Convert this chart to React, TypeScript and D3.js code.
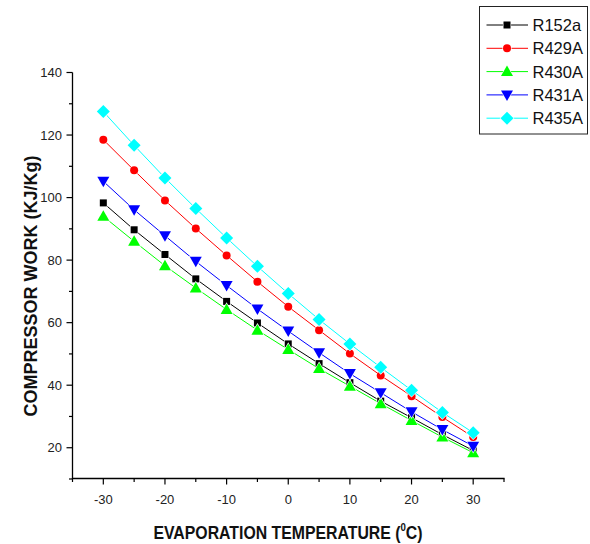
import React from "react";
import * as d3 from "d3";

const temps = [-30, -25, -20, -15, -10, -5, 0, 5, 10, 15, 20, 25, 30];
const r152a = [98.3, 89.7, 81.8, 74.0, 66.8, 59.9, 53.2, 46.9, 40.8, 34.9, 29.6, 24.2, 19.1];
const r429a = [118.5, 108.7, 99.1, 90.1, 81.5, 73.1, 65.1, 57.6, 50.1, 43.1, 36.5, 29.8, 23.4];
const r430a = [94.0, 86.0, 78.2, 71.1, 64.2, 57.6, 51.4, 45.3, 39.7, 34.1, 28.7, 23.4, 18.4];
const r431a = [105.2, 96.1, 87.8, 79.6, 71.9, 64.4, 57.3, 50.4, 43.7, 37.6, 31.5, 25.8, 20.5];
const r435a = [127.5, 116.7, 106.3, 96.5, 87.1, 78.0, 69.3, 61.0, 53.2, 45.7, 38.4, 31.3, 24.8];

const seriesNames = ["R152a", "R429A", "R430A", "R431A", "R435A"];
const seriesColors = ["#000000", "#ff0000", "#00ff00", "#0000ff", "#00ffff"];
const seriesShapes = ["square", "circle", "triangle", "triangleDown", "diamond"];
const seriesValues = [r152a, r429a, r430a, r431a, r435a];

const xMajorTicks = [-30, -20, -10, 0, 10, 20, 30];
const xMinorTicks = [-35, -25, -15, -5, 5, 15, 25, 35];
const yMajorTicks = [20, 40, 60, 80, 100, 120, 140];
const yMinorTicks = [10, 30, 50, 70, 90, 110, 130];

const FONT = "'Liberation Sans', Arial, sans-serif";

function Marker({ shape, x, y, color }: { shape: string; x: number; y: number; color: string }) {
  const common = { fill: color, stroke: "#fff", strokeWidth: 1.2, paintOrder: "stroke" as any };
  if (shape === "square") return <rect x={x - 3.5} y={y - 3.5} width={7} height={7} {...common} />;
  if (shape === "circle") return <circle cx={x} cy={y} r={4} {...common} />;
  if (shape === "triangle")
    return <path d={`M${x},${y - 6} L${x + 6},${y + 4.5} L${x - 6},${y + 4.5} Z`} {...common} />;
  if (shape === "triangleDown")
    return <path d={`M${x},${y + 6} L${x + 6},${y - 4.5} L${x - 6},${y - 4.5} Z`} {...common} />;
  return <path d={`M${x},${y - 6.5} L${x + 6.5},${y} L${x},${y + 6.5} L${x - 6.5},${y} Z`} {...common} />;
}

export default function App() {
  const x = d3.scaleLinear().domain([-35, 35]).range([72.5, 504]);
  const y = d3.scaleLinear().domain([10, 140]).range([479, 72.5]);
  const line = d3
    .line<[number, number]>()
    .x((d) => x(d[0]))
    .y((d) => y(d[1]));

  const axisY = y(10) - 0.5;
  const axisX = x(-35);

  return (
    <svg
      width={590}
      height={544}
      style={{ position: "absolute", left: 0, top: 0, background: "#fff" }}
      fontFamily={FONT}
    >
      <rect width={590} height={544} fill="#fff" />
      {seriesValues.map((vals, i) => (
        <path
          key={"l" + i}
          d={line(temps.map((t, j) => [t, vals[j]] as [number, number])) || ""}
          fill="none"
          stroke={seriesColors[i]}
          strokeWidth={1}
        />
      ))}
      {seriesValues.map((vals, i) => (
        <g key={"m" + i}>
          {temps.map((t, j) => (
            <Marker key={j} shape={seriesShapes[i]} x={x(t)} y={y(vals[j])} color={seriesColors[i]} />
          ))}
        </g>
      ))}
      <line x1={axisX} x2={axisX} y1={y(140)} y2={axisY + 0.5} stroke="#000" strokeWidth={1.3} />
      <line x1={axisX - 0.6} x2={x(35) + 0.6} y1={axisY} y2={axisY} stroke="#000" strokeWidth={1.3} />
      {xMajorTicks.map((t) => (
        <g key={"xt" + t}>
          <line x1={x(t)} x2={x(t)} y1={axisY} y2={axisY + 6} stroke="#000" strokeWidth={1.2} />
          <text x={x(t)} y={504} textAnchor="middle" fontSize={13} fill="#222">
            {t}
          </text>
        </g>
      ))}
      {xMinorTicks.map((t) => (
        <line key={"xm" + t} x1={x(t)} x2={x(t)} y1={axisY} y2={axisY + 3.5} stroke="#000" strokeWidth={1.2} />
      ))}
      {yMajorTicks.map((t) => (
        <g key={"yt" + t}>
          <line x1={axisX - 6} x2={axisX} y1={y(t)} y2={y(t)} stroke="#000" strokeWidth={1.2} />
          <text x={62} y={y(t) + 4.5} textAnchor="end" fontSize={13} fill="#222">
            {t}
          </text>
        </g>
      ))}
      {yMinorTicks.map((t) => (
        <line key={"ym" + t} x1={axisX - 3.5} x2={axisX} y1={y(t)} y2={y(t)} stroke="#000" strokeWidth={1.2} />
      ))}
      <g transform="translate(288,539) scale(0.88,1)">
        <text x={0} y={0} textAnchor="middle" fontSize={18} fontWeight="bold" fill="#111">
          EVAPORATION TEMPERATURE (<tspan fontSize={11} dy={-8}>0</tspan>
          <tspan dy={8}>C)</tspan>
        </text>
      </g>
      <text
        transform={`translate(37,286) rotate(-90)`}
        textAnchor="middle"
        fontSize={18}
        fontWeight="bold"
        fill="#111"
      >
        COMPRESSOR WORK (KJ/Kg)
      </text>
      <rect x={479.5} y={6.5} width={108} height={127.5} fill="#fff" stroke="#222" strokeWidth={1} />
      {seriesNames.map((name, i) => {
        const ly = 25 + i * 23.3;
        return (
          <g key={"lg" + i}>
            <line x1={486.5} x2={528} y1={ly} y2={ly} stroke={seriesColors[i]} strokeWidth={1} />
            <Marker shape={seriesShapes[i]} x={507} y={ly} color={seriesColors[i]} />
            <text x={532.5} y={ly + 6} fontSize={16.5} fill="#111">
              {name}
            </text>
          </g>
        );
      })}
    </svg>
  );
}
